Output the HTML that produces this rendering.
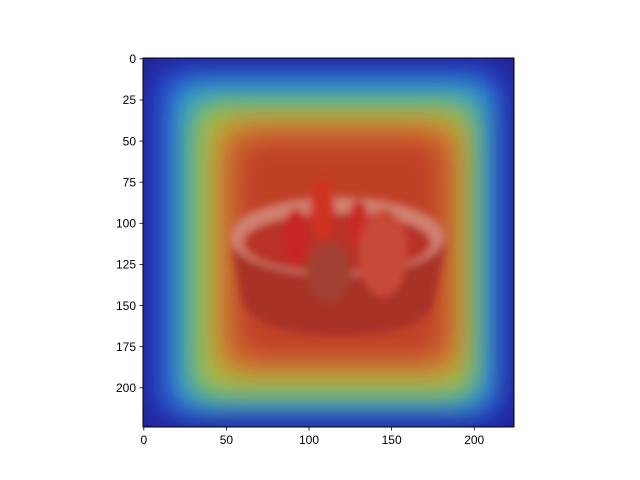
<!DOCTYPE html>
<html><head><meta charset="utf-8"><style>
body{margin:0;background:#fff;}
svg{display:block;font-family:"Liberation Sans",sans-serif;}
</style></head><body>
<svg width="640" height="480" viewBox="0 0 640 480">
<defs>
<filter id="b1" x="-30%" y="-30%" width="160%" height="160%"><feGaussianBlur stdDeviation="14"/></filter>
<filter id="b2" x="-30%" y="-30%" width="160%" height="160%"><feGaussianBlur stdDeviation="4"/></filter>
<clipPath id="clip"><rect x="143" y="58" width="371" height="369"/></clipPath>
</defs>
<g id="img" clip-path="url(#clip)"></g>
<rect x="143" y="58" width="371" height="369" fill="none" stroke="#000" stroke-width="1"/>
<g id="xt"></g>
<g id="yt"></g>
</svg>
<script>
const xTicks=[0,50,100,150,200];
const yTicks=[0,25,50,75,100,125,150,175,200];
const heatLayers=[
 {x0:-10,x1:233,y0:-10,y1:233,c:"#22239a"},
 {x0:6,x1:218,y0:6,y1:218,c:"#2548d0"},
 {x0:18,x1:210,y0:14,y1:213,c:"#2ea8c8"},
 {x0:30,x1:200,y0:27,y1:205,c:"#a8c040"},
 {x0:44,x1:192,y0:38,y1:192,c:"#d07a30"},
 {x0:55,x1:182,y0:48,y1:182,c:"#c04028"}
];
const NS="http://www.w3.org/2000/svg";
function px(x){return 143+(x+0.5)*1.652;}
function py(y){return 58+(y+0.5)*1.645;}
const g=document.getElementById('img');
function mk(tag,attrs,parent){const e=document.createElementNS(NS,tag);for(const k in attrs)e.setAttribute(k,attrs[k]);(parent||g).appendChild(e);return e;}
heatLayers.forEach((L,i)=>{
 const r=mk('rect',{x:px(L.x0),y:py(L.y0),width:px(L.x1)-px(L.x0),height:py(L.y1)-py(L.y0),rx:i?20:0,fill:L.c});
 if(i)r.setAttribute('filter','url(#b1)');
 
 
});
const bowl=mk('g',{filter:"url(#b2)"});


mk('path',{d:`M${px(52)} ${py(105)} L${px(60)} ${py(150)} Q${px(75)} ${py(168)} ${px(118)} ${py(168)} Q${px(165)} ${py(168)} ${px(175)} ${py(150)} L${px(183)} ${py(110)} Z`,fill:"#a83028"},bowl);
mk('ellipse',{cx:px(117),cy:py(108),rx:px(182)-px(117),ry:py(132)-py(108),fill:"#d08070"},bowl);
mk('ellipse',{cx:px(117),cy:py(112),rx:px(174)-px(117),ry:py(130)-py(112),fill:"#b83028"},bowl);
mk('ellipse',{cx:px(108),cy:py(92),rx:12,ry:30,fill:"#d03020"},bowl);
mk('ellipse',{cx:px(92),cy:py(108),rx:12,ry:28,fill:"#c82828"},bowl);
mk('ellipse',{cx:px(130),cy:py(100),rx:10,ry:24,fill:"#c82a28"},bowl);
mk('ellipse',{cx:px(145),cy:py(118),rx:24,ry:44,fill:"#c84a38"},bowl);
mk('ellipse',{cx:px(112),cy:py(130),rx:22,ry:30,fill:"#a04030"},bowl);
const xt=document.getElementById('xt');
xTicks.forEach(v=>{
 const x=px(v);
 const t=mk('line',{x1:x,x2:x,y1:427,y2:430.5,stroke:"#000","stroke-width":0.8},xt);
 
 
 const l=mk('text',{x:x,y:444,"text-anchor":"middle","font-size":12},xt);
 l.textContent=v;
 
 
});
const yt=document.getElementById('yt');
yTicks.forEach(v=>{
 const y=py(v);
 const t=mk('line',{x1:139.5,x2:143,y1:y,y2:y,stroke:"#000","stroke-width":0.8},yt);
 
 
 const l=mk('text',{x:136,y:y+4.3,"text-anchor":"end","font-size":12},yt);
 l.textContent=v;
 
 
});
</script>
</body></html>
